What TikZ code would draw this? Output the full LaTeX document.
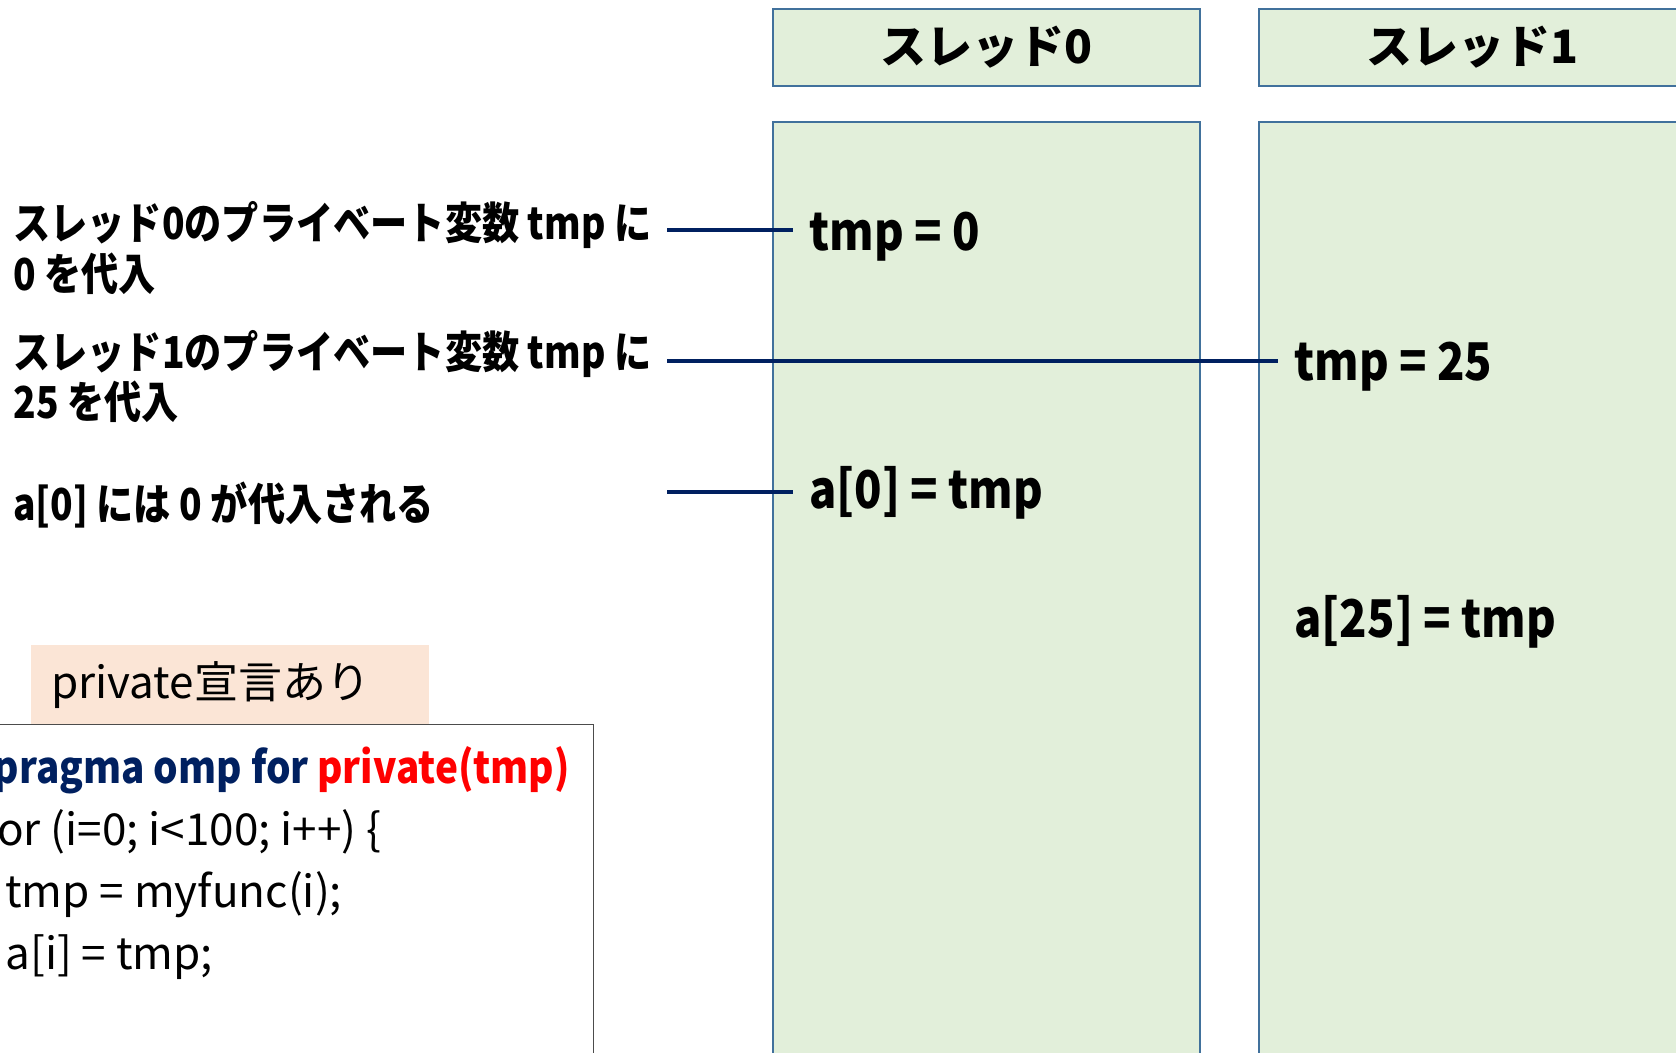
\documentclass[tikz,border=0pt]{standalone}
\usepackage{fontspec}
\setmainfont{Noto Sans CJK JP}
\newfontfamily\narrowjp[FakeStretch=0.845]{Noto Sans CJK JP}
\newfontfamily\cellfont[FakeStretch=0.87]{Noto Sans CJK JP}
\newfontfamily\pragmafont[FakeStretch=0.88]{Noto Sans CJK JP}
\definecolor{cellgreen}{HTML}{E2EFDA}
\definecolor{cellblue}{HTML}{41719C}
\definecolor{navy}{HTML}{002060}
\definecolor{peach}{HTML}{FBE5D6}
\definecolor{codered}{HTML}{FF0000}
\begin{document}
\begin{tikzpicture}[x=0.5pt,y=-0.5pt,
  threadcell/.style={draw=cellblue, fill=cellgreen, line width=1pt, inner sep=0pt},
  headtext/.style={font=\bfseries\fontsize{23}{27}\selectfont},
  celltext/.style={font=\cellfont\bfseries\fontsize{26}{30}\selectfont, anchor=base west, inner xsep=8pt, inner ysep=0pt},
  note/.style={font=\narrowjp\bfseries\fontsize{22}{26}\selectfont, anchor=base west, inner sep=0pt},
  link/.style={draw=navy, line width=2pt},
  tagbox/.style={fill=peach, font=\fontsize{22}{26}\selectfont, anchor=north west,
    minimum height=39.5pt, text width=179pt, inner xsep=10pt, inner ysep=0pt, align=left},
  codeframe/.style={draw=black!70, line width=0.5pt, anchor=north west, inner sep=0pt},
  codeline/.style={font=\fontsize{22}{26}\selectfont, anchor=base west, inner sep=0pt}]

\useasboundingbox (0,0) rectangle (1676,1053);
\clip (0,0) rectangle (1676,1053);

% thread columns
\node[threadcell, headtext, minimum width=213.5pt, minimum height=38.5pt] (head0) at (986.5,47.5) {スレッド0};
\node[threadcell, headtext, minimum width=213.5pt, minimum height=38.5pt] (head1) at (1472.5,47.5) {スレッド1};
\node[threadcell, minimum width=213.5pt, minimum height=474pt] (body0) at (986.5,596) {};
\node[threadcell, minimum width=213.5pt, minimum height=474pt] (body1) at (1472.5,596) {};

% statements executed in each thread
\node[celltext] (val0) at (793,251) {tmp = 0};
\node[celltext] (val1) at (1278,380.5) {tmp = 25};
\node[celltext] (store0) at (793,509) {a[0] = tmp};
\node[celltext] (store1) at (1278,637) {a[25] = tmp};

% explanations on the left
\node[note] (note0a) at (13,240) {スレッド0のプライベート変数 tmp に};
\node[note] (note0b) at (13,291) {0 を代入};
\node[note] (note1a) at (13,369) {スレッド1のプライベート変数 tmp に};
\node[note] (note1b) at (13,419) {25 を代入};
\node[note] (note2) at (13,521) {a[0] には 0 が代入される};

% leader lines from the explanations to the statements
\coordinate (from0) at (667,230);
\coordinate (from1) at (667,361);
\coordinate (from2) at (667,492);
\draw[link] (from0) -- (from0 -| val0.west);
\draw[link] (from1) -- (from1 -| val1.west);
\draw[link] (from2) -- (from2 -| store0.west);

% source code
\node[tagbox] (tag) at (31,645) {private宣言あり};
\node[codeframe, minimum width=301.5pt, minimum height=175pt] (code) at (-10,724) {};
\node[codeline] (c1) at (-30,783) {\pragmafont\bfseries\color{navy}\#pragma omp for \color{codered}private(tmp)};
\node[codeline] (c2) at (-17,845) {for (i=0; i<100; i++) \{};
\node[codeline] (c3) at (5,907) {tmp = myfunc(i);};
\node[codeline] (c4) at (5,969) {a[i] = tmp;};
\end{tikzpicture}
\end{document}
